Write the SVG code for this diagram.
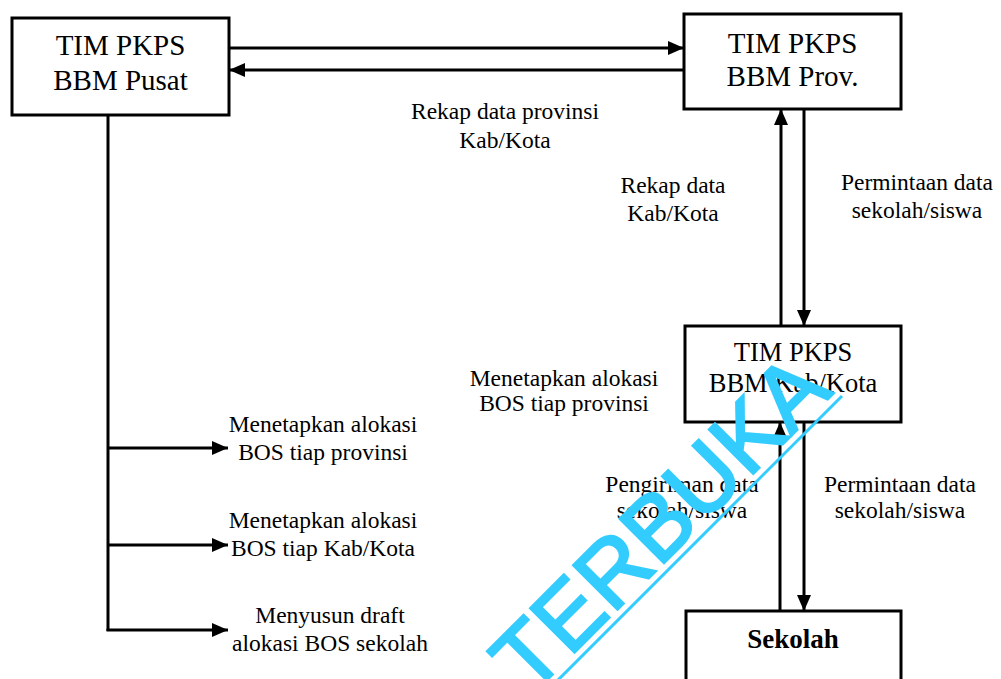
<svg xmlns="http://www.w3.org/2000/svg" width="1001" height="679" viewBox="0 0 1001 679">
<style>
.box{fill:#fff;stroke:#000;stroke-width:3}
.t{fill:#000;text-anchor:middle}
.big{font-size:29px}
.mid{font-size:26.5px}
.lbl{font-size:23.5px}
.line{stroke:#000;stroke-width:3;fill:none}
.wm{font-size:91px;fill:#33ccff;stroke:#33ccff;stroke-width:2.5}
</style>
<defs>
<marker id="ah" markerUnits="userSpaceOnUse" markerWidth="17" markerHeight="15" refX="16" refY="7" orient="auto">
<path d="M0,0 L16,7 L0,14 z" fill="#000"/>
</marker>
</defs>
<g id="connectors">
<line class="line" x1="229" y1="48" x2="684" y2="48" marker-end="url(#ah)"/>
<line class="line" x1="684" y1="70" x2="229" y2="70" marker-end="url(#ah)"/>
<line class="line" x1="781" y1="326" x2="781" y2="109" marker-end="url(#ah)"/>
<line class="line" x1="804" y1="109" x2="804" y2="326" marker-end="url(#ah)"/>
<line class="line" x1="780" y1="611" x2="780" y2="422" marker-end="url(#ah)"/>
<line class="line" x1="804" y1="422" x2="804" y2="611" marker-end="url(#ah)"/>
<line class="line" x1="108" y1="115" x2="108" y2="631"/>
<line class="line" x1="107" y1="448" x2="228" y2="448" marker-end="url(#ah)"/>
<line class="line" x1="107" y1="545" x2="228" y2="545" marker-end="url(#ah)"/>
<line class="line" x1="106.5" y1="630" x2="228" y2="630" marker-end="url(#ah)"/>
</g>
<g font-family="Liberation Serif, Times New Roman, DejaVu Serif, serif">
<g id="pusat">
<rect class="box" x="12" y="18" width="217" height="97"/>
<text class="t big" x="120.5" y="55">TIM PKPS</text>
<text class="t big" x="120.5" y="90">BBM Pusat</text>
</g>
<g id="prov">
<rect class="box" x="684" y="14" width="217" height="95"/>
<text class="t big" x="792.5" y="53">TIM PKPS</text>
<text class="t big" x="792.5" y="86">BBM Prov.</text>
</g>
<g id="kabkota">
<rect class="box" x="685" y="326" width="216" height="96"/>
<text class="t mid" x="793" y="361">TIM PKPS</text>
<text class="t mid" x="793" y="392">BBM Kab/Kota</text>
</g>
<g id="sekolah">
<rect class="box" x="686" y="611" width="215" height="80"/>
<text class="t" x="793" y="648" font-size="27" font-weight="bold">Sekolah</text>
</g>
<g id="labels">
<text class="t lbl" x="505" y="119">Rekap data provinsi</text>
<text class="t lbl" x="505" y="148">Kab/Kota</text>
<text class="t lbl" x="673" y="193">Rekap data</text>
<text class="t lbl" x="673" y="221">Kab/Kota</text>
<text class="t lbl" x="917" y="190">Permintaan data</text>
<text class="t lbl" x="917" y="218">sekolah/siswa</text>
<text class="t lbl" x="564" y="386">Menetapkan alokasi</text>
<text class="t lbl" x="564" y="411">BOS tiap provinsi</text>
<text class="t lbl" x="323" y="432">Menetapkan alokasi</text>
<text class="t lbl" x="323" y="460">BOS tiap provinsi</text>
<text class="t lbl" x="323" y="528">Menetapkan alokasi</text>
<text class="t lbl" x="323" y="556">BOS tiap Kab/Kota</text>
<text class="t lbl" x="330" y="623">Menyusun draft</text>
<text class="t lbl" x="330" y="651">alokasi BOS sekolah</text>
<text class="t lbl" x="682" y="492">Pengiriman data</text>
<text class="t lbl" x="682" y="518">sekolah/siswa</text>
<text class="t lbl" x="900" y="492">Permintaan data</text>
<text class="t lbl" x="900" y="518">sekolah/siswa</text>
</g>
</g>
<g id="watermark" font-family="Liberation Sans, Arial, sans-serif">
<text class="wm" transform="translate(530 697) rotate(-45)">TERBUKA</text>
<line x1="546" y1="692" x2="842" y2="396" stroke="#33ccff" stroke-width="3"/>
</g>
</svg>
